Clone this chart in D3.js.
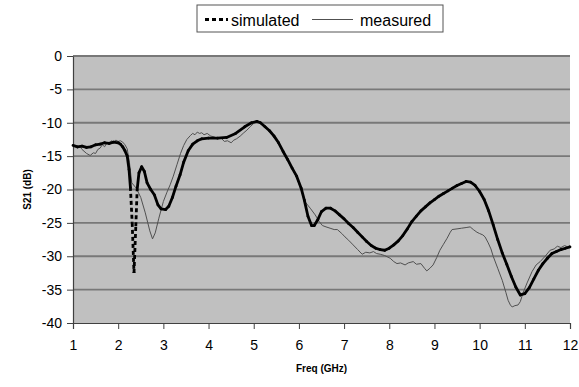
<!DOCTYPE html>
<html lang="en">
<head>
  <meta charset="utf-8">
  <title>S21 simulated vs measured</title>
  <style>
  body { margin: 0; background: #fff; }
  svg { font-family: "Liberation Sans", Arial, sans-serif; }
  .axis path, .axis line { stroke: #404040; }
  .axis text { font-size: 14px; fill: #000; }
  </style>
  <script src="https://cdn.jsdelivr.net/npm/d3@7"></script>
</head>
<body>
<svg width="579" height="387"></svg>
<script>
// simulated (thick) curve, freq in GHz / S21 in dB
var simFreq = [1.0,1.1,1.2,1.3,1.4,1.5,1.6,1.7,1.8,1.9,2.0,2.05,2.1,2.15,2.2,2.24,2.27,2.31,2.35,2.39,2.42,2.46,2.52,2.58,2.64,2.72,2.8,2.88,2.95,3.05,3.12,3.2,3.28,3.37,3.45,3.55,3.65,3.75,3.85,4.0,4.2,4.4,4.6,4.8,4.95,5.07,5.15,5.25,5.35,5.45,5.55,5.65,5.75,5.85,5.95,6.05,6.12,6.2,6.28,6.34,6.42,6.5,6.6,6.7,6.8,6.9,7.0,7.1,7.2,7.3,7.4,7.5,7.6,7.7,7.8,7.9,8.0,8.1,8.2,8.3,8.4,8.5,8.6,8.7,8.8,8.9,9.0,9.1,9.2,9.3,9.4,9.5,9.6,9.7,9.8,9.9,10.0,10.1,10.2,10.3,10.4,10.5,10.6,10.7,10.8,10.9,11.0,11.1,11.2,11.3,11.4,11.5,11.6,11.7,11.8,11.9,12.0];
var simS21 = [-13.4,-13.6,-13.5,-13.7,-13.6,-13.3,-13.2,-13.0,-13.1,-12.9,-13.0,-13.2,-13.6,-14.2,-15.0,-17.0,-19.6,-25.0,-32.5,-25.5,-20.0,-17.5,-16.6,-17.3,-19.0,-20.0,-20.8,-22.3,-22.9,-23.0,-22.5,-21.2,-19.5,-17.8,-15.9,-14.2,-13.2,-12.7,-12.4,-12.3,-12.3,-12.2,-11.6,-10.6,-10.0,-9.8,-10.0,-10.6,-11.2,-12.0,-13.0,-14.3,-15.5,-16.8,-18.0,-19.8,-21.6,-24.0,-25.4,-25.4,-24.5,-23.3,-22.8,-22.8,-23.2,-23.8,-24.4,-25.1,-25.7,-26.4,-27.1,-27.8,-28.4,-28.8,-29.0,-29.1,-28.8,-28.3,-27.7,-26.9,-25.9,-24.8,-24.0,-23.2,-22.6,-22.0,-21.5,-21.0,-20.6,-20.2,-19.8,-19.4,-19.1,-18.8,-18.9,-19.4,-20.3,-21.5,-23.2,-25.3,-27.5,-29.5,-31.2,-33.0,-34.6,-35.8,-35.6,-34.7,-33.4,-32.1,-31.1,-30.3,-29.6,-29.3,-29.0,-28.8,-28.6];

// measured (thin) curve
var measFreq = [1.0,1.1,1.15,1.2,1.3,1.38,1.45,1.5,1.55,1.6,1.65,1.7,1.75,1.8,1.85,1.9,1.95,2.0,2.05,2.1,2.15,2.2,2.25,2.3,2.4,2.5,2.6,2.7,2.76,2.82,2.9,3.0,3.08,3.15,3.22,3.3,3.38,3.45,3.52,3.6,3.65,3.7,3.75,3.8,3.85,3.9,3.97,4.05,4.12,4.2,4.28,4.35,4.42,4.5,4.56,4.62,4.7,4.78,4.85,4.92,5.0,5.07,5.15,5.25,5.35,5.45,5.55,5.65,5.75,5.85,5.95,6.05,6.13,6.25,6.36,6.45,6.52,6.6,6.69,6.78,6.85,6.95,7.02,7.1,7.2,7.3,7.4,7.48,7.57,7.65,7.72,7.8,7.9,8.02,8.1,8.17,8.25,8.35,8.42,8.53,8.6,8.7,8.78,8.83,8.9,8.97,9.05,9.12,9.2,9.28,9.35,9.39,9.5,9.6,9.7,9.79,9.86,9.94,10.0,10.07,10.12,10.19,10.25,10.3,10.4,10.5,10.58,10.63,10.68,10.72,10.78,10.85,10.9,10.96,11.05,11.16,11.25,11.34,11.45,11.56,11.65,11.72,11.8,11.88,11.95,12.0];
var measS21 = [-13.5,-13.8,-13.5,-14.0,-14.6,-14.9,-14.5,-14.6,-14.0,-13.8,-13.3,-13.6,-13.0,-13.2,-12.7,-12.9,-12.6,-12.8,-12.7,-12.9,-13.3,-13.9,-16.0,-19.0,-19.8,-21.2,-23.5,-26.2,-27.4,-26.5,-24.3,-21.8,-20.4,-19.3,-18.0,-16.3,-14.6,-13.4,-12.5,-11.9,-11.6,-11.8,-11.4,-11.6,-11.5,-11.8,-11.6,-12.0,-12.1,-12.4,-12.3,-12.8,-12.7,-13.0,-12.6,-12.4,-12.0,-11.5,-11.1,-10.6,-10.1,-9.8,-10.1,-10.7,-11.3,-12.1,-13.1,-14.4,-15.6,-16.9,-18.2,-20.0,-21.8,-22.8,-23.8,-24.8,-25.4,-25.6,-25.8,-26.0,-26.0,-26.6,-27.1,-27.6,-28.3,-29.0,-29.7,-29.4,-29.5,-29.3,-29.6,-29.7,-29.9,-30.3,-30.8,-31.1,-31.0,-31.3,-31.0,-30.8,-31.2,-31.1,-31.8,-32.2,-31.8,-31.3,-30.2,-29.1,-28.2,-27.3,-26.4,-26.0,-25.9,-25.8,-25.7,-25.6,-26.0,-26.4,-26.6,-26.8,-27.1,-28.0,-28.9,-30.0,-31.8,-33.6,-35.4,-36.6,-37.3,-37.6,-37.4,-37.3,-36.8,-35.5,-34.0,-32.3,-31.3,-30.8,-30.0,-29.1,-28.9,-28.5,-28.7,-28.4,-28.6,-28.4];

var xTicks = [1,2,3,4,5,6,7,8,9,10,11,12];
var yTicks = [0,-5,-10,-15,-20,-25,-30,-35,-40];
var seriesNames = ["simulated", "measured"];

var svg = d3.select("svg"),
    margin = {top: 56, right: 9, bottom: 64, left: 73},
    width = +svg.attr("width") - margin.left - margin.right,
    height = +svg.attr("height") - margin.top - margin.bottom,
    g = svg.append("g").attr("transform", "translate(" + margin.left + "," + margin.top + ")");

var x = d3.scaleLinear().domain([1, 12]).range([0, width]);
var y = d3.scaleLinear().domain([-40, 0]).range([height, 0]);

// plot area
g.append("rect")
    .attr("width", width)
    .attr("height", height)
    .attr("fill", "#c0c0c0");

g.selectAll(".grid")
  .data(yTicks.filter(function(d) { return d > -40; }))
  .enter().append("line")
    .attr("class", "grid")
    .attr("x1", 0)
    .attr("x2", width)
    .attr("y1", function(d) { return y(d); })
    .attr("y2", function(d) { return y(d); })
    .attr("stroke", "#787878")
    .attr("stroke-width", 1.8);

// axes
g.append("g")
    .attr("class", "axis")
    .attr("transform", "translate(0," + height + ")")
    .call(d3.axisBottom(x).tickValues(xTicks).tickSize(6).tickSizeOuter(6).tickPadding(11).tickFormat(String));

g.append("g")
    .attr("class", "axis")
    .call(d3.axisLeft(y).tickValues(yTicks).tickSize(6).tickSizeOuter(0).tickPadding(5).tickFormat(String));

g.selectAll(".axis .domain").attr("stroke-width", 1.2);

// measured
var measData = measFreq.map(function(f, i) { return [f, measS21[i]]; });
g.append("path")
    .datum(measData)
    .attr("fill", "none")
    .attr("stroke", "#505050")
    .attr("stroke-width", 1)
    .attr("d", d3.line().x(function(d) { return x(d[0]); }).y(function(d) { return y(d[1]); }));

// simulated: dashed style, but short segments come out solid (as in the spreadsheet export)
var simData = simFreq.map(function(f, i) { return [x(f), y(simS21[i])]; });
var segs = d3.pairs(simData);
g.selectAll(".sim")
  .data(segs)
  .enter().append("line")
    .attr("class", "sim")
    .attr("x1", function(d) { return d[0][0]; })
    .attr("y1", function(d) { return d[0][1]; })
    .attr("x2", function(d) { return d[1][0]; })
    .attr("y2", function(d) { return d[1][1]; })
    .attr("stroke", "#000")
    .attr("stroke-width", 2.8)
    .attr("stroke-linecap", function(d) { return segLen(d) > 22 ? "butt" : "round"; })
    .attr("stroke-dasharray", function(d) { return segLen(d) > 22 ? "4,3" : null; });

function segLen(d) {
  return Math.hypot(d[1][0] - d[0][0], d[1][1] - d[0][1]);
}

// axis titles
svg.append("text")
    .attr("transform", "translate(31," + (margin.top + height / 2) + ") rotate(-90)")
    .attr("text-anchor", "middle")
    .attr("font-weight", "bold")
    .style("font-size", "10px")
    .text("S21 (dB)");

svg.append("text")
    .attr("x", margin.left + width / 2)
    .attr("y", 372)
    .attr("text-anchor", "middle")
    .attr("font-weight", "bold")
    .style("font-size", "10px")
    .text("Freq (GHz)");

// legend
var legend = svg.append("g").attr("transform", "translate(197,5)");
legend.append("rect")
    .attr("width", 246)
    .attr("height", 27)
    .attr("fill", "#fff")
    .attr("stroke", "#555")
    .attr("stroke-width", 1);

legend.append("line")
    .attr("x1", 8).attr("x2", 31).attr("y1", 14.5).attr("y2", 14.5)
    .attr("stroke", "#000").attr("stroke-width", 2.8)
    .attr("stroke-dasharray", "4,3");
legend.append("text")
    .attr("x", 34).attr("y", 20.5)
    .style("font-size", "16px")
    .text(seriesNames[0]);

legend.append("line")
    .attr("x1", 115).attr("x2", 156).attr("y1", 14.5).attr("y2", 14.5)
    .attr("stroke", "#505050").attr("stroke-width", 1);
legend.append("text")
    .attr("x", 163).attr("y", 20.5)
    .style("font-size", "16px")
    .text(seriesNames[1]);
</script>
</body>
</html>
